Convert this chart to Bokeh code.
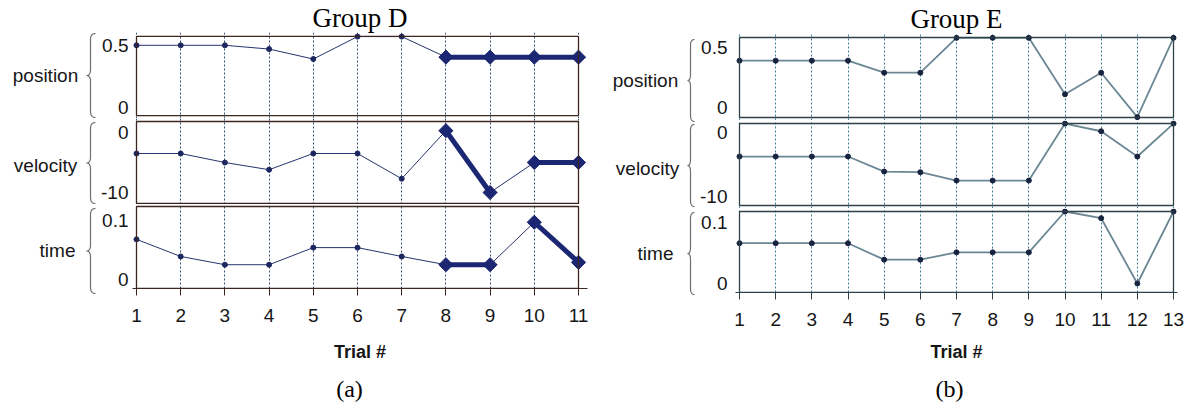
import numpy as np
from bokeh.plotting import figure
from bokeh.layouts import row, column
from bokeh.models import Range1d, FixedTicker, BoxAnnotation, Title
from bokeh.core.properties import value
from bokeh.embed import file_html
from bokeh.resources import INLINE

# ---------------- data ----------------
trials_d = [1, 2, 3, 4, 5, 6, 7, 8, 9, 10, 11]
position_d = [0.5, 0.5, 0.5, 0.47, 0.39, 0.57, 0.57, 0.405, 0.405, 0.405, 0.405]
velocity_d = [-3.5, -3.5, -5.0, -6.2, -3.5, -3.5, -7.7, 0.3, -10.0, -5.0, -5.0]
time_d = [0.068, 0.039, 0.025, 0.025, 0.054, 0.054, 0.039, 0.025, 0.025, 0.097, 0.029]
highlight_trials_d = [8, 9, 10, 11]
highlight_segments_d = {
    "position": [(8, 9), (9, 10), (10, 11)],
    "velocity": [(8, 9), (10, 11)],
    "time": [(8, 9), (10, 11)],
}

trials_e = [1, 2, 3, 4, 5, 6, 7, 8, 9, 10, 11, 12, 13]
position_e = [0.39, 0.39, 0.39, 0.39, 0.29, 0.29, 0.58, 0.58, 0.58, 0.11, 0.29, -0.08, 0.58]
velocity_e = [-3.75, -3.75, -3.75, -3.75, -6.1, -6.2, -7.5, -7.5, -7.5, 1.4, 0.2, -3.75, 1.4]
time_e = [0.066, 0.066, 0.066, 0.066, 0.039, 0.039, 0.051, 0.051, 0.051, 0.118, 0.107, 0.0, 0.118]

variables = ["position", "velocity", "time"]
yticks = {"position": [0, 0.5], "velocity": [-10, 0], "time": [0, 0.1]}
ytick_labels = {"position": ["0", "0.5"], "velocity": ["-10", "0"], "time": ["0", "0.1"]}
group_titles = ["Group D", "Group E"]
panel_tags = ["(a)", "(b)"]
x_label = "Trial #"

# ---------------- layout geometry (page pixels) ----------------
FONT = "Liberation Sans"
SERIF = "Liberation Serif"
TEXT = "#161616"
TOP_H = 375      # height of the chart area
PAGE_H = 402     # total height including the (a)/(b) captions
PAGE_W = 1184

groups = [
    dict(
        trials=trials_d,
        values={"position": position_d, "velocity": velocity_d, "time": time_d},
        hl_trials=highlight_trials_d, hl_segments=highlight_segments_d,
        deco_x=(0, 96),
        box_x=(136, 578), frame_x=(132, 587), fig_x=(96, 597),
        panels={
            "position": dict(box=(35, 115), frame=(31, 118), fig=(0, 118), lim=(-0.063, 0.571)),
            "velocity": dict(box=(121, 203), frame=(118, 204), fig=(118, 204), lim=(-11.83, 1.83)),
            "time": dict(box=(206, 288), frame=(204, 288), fig=(204, TOP_H), lim=(-0.0153, 0.1237)),
        },
        label_pos={"position": (45, 75), "velocity": (45, 165), "time": (57, 250)},
        brace_x=(86, 90, 95),
        brace_y={"position": (33, 117), "velocity": (122, 203), "time": (208, 293)},
        ystandoff=4,
        line_color="#26336e", line_width=1.0, dot_color="#1b275e",
        grid_color="#34506a", box_color="#3d2622", hl_color="#1c2773",
        xlabel_standoff=17, tag_pos=(349, 388),
    ),
    dict(
        trials=trials_e,
        values={"position": position_e, "velocity": velocity_e, "time": time_e},
        hl_trials=[], hl_segments={},
        deco_x=(597, 697),
        box_x=(739, 1173), frame_x=(735, 1177), fig_x=(697, PAGE_W),
        panels={
            "position": dict(box=(37, 117), frame=(33, 120), fig=(0, 120), lim=(-0.083, 0.583)),
            "velocity": dict(box=(123, 205), frame=(120, 208), fig=(120, 208), lim=(-11.4, 1.41)),
            "time": dict(box=(211, 292), frame=(208, 292), fig=(208, TOP_H), lim=(-0.0148, 0.118)),
        },
        label_pos={"position": (645, 80), "velocity": (647, 168), "time": (655, 253)},
        brace_x=(687, 690, 694),
        brace_y={"position": (39, 121), "velocity": (124, 206), "time": (212, 294)},
        ystandoff=8,
        line_color="#6a8793", line_width=1.8, dot_color="#17233f",
        grid_color="#3e7d98", box_color="#2e4148", hl_color="#1c2773",
        xlabel_standoff=13, tag_pos=(949, 388),
    ),
]


def brace_points(x_tip, x_spine, x_end, y_top, y_bot, r=6, n=8):
    mid = (y_top + y_bot) / 2.0

    def qb(p0, p1, p2):
        out = []
        for t in np.linspace(0, 1, n):
            out.append(((1 - t) ** 2 * p0[0] + 2 * (1 - t) * t * p1[0] + t ** 2 * p2[0],
                        (1 - t) ** 2 * p0[1] + 2 * (1 - t) * t * p1[1] + t ** 2 * p2[1]))
        return out

    pts = []
    pts += qb((x_end, y_top), (x_spine, y_top), (x_spine, y_top + r))
    pts += qb((x_spine, mid - r), (x_spine, mid), (x_tip, mid))
    pts += qb((x_tip, mid), (x_spine, mid), (x_spine, mid + r))
    pts += qb((x_spine, y_bot - r), (x_spine, y_bot), (x_end, y_bot))
    return pts


def blank_figure(w, h, xr, yr):
    f = figure(width=w, height=h, x_range=xr, y_range=yr, toolbar_location=None,
               output_backend="svg", title=None, x_axis_location=None,
               y_axis_location=None, min_border=0)
    f.outline_line_color = None
    f.xgrid.visible = False
    f.ygrid.visible = False
    f.background_fill_color = "white"
    f.border_fill_color = "white"
    return f


group_layouts = []
for gi, g in enumerate(groups):
    trials = g["trials"]
    bx0, bx1 = g["box_x"]
    fx0, fx1 = g["frame_x"]
    gx0, gx1 = g["fig_x"]
    dppx = (trials[-1] - trials[0]) / (bx1 - bx0)
    xs = trials[0] - (bx0 - fx0) * dppx
    xe = trials[-1] + (fx1 - bx1) * dppx

    # decoration figure: variable names with curly braces (page-pixel coordinates)
    dx0, dx1 = g["deco_x"]
    deco = blank_figure(dx1 - dx0, TOP_H, Range1d(dx0, dx1), Range1d(TOP_H, 0))
    bxs, bys = [], []
    for var in variables:
        bt, bs, be = g["brace_x"]
        byt, byb = g["brace_y"][var]
        pts = brace_points(bt, bs, be, byt, byb)
        bxs.append([a for a, b in pts])
        bys.append([b for a, b in pts])
    deco.multi_line(bxs, bys, line_color="#707070", line_width=1.2)
    deco.text(x=[g["label_pos"][v][0] for v in variables],
              y=[g["label_pos"][v][1] for v in variables],
              text=variables, text_align="center", text_baseline="middle",
              text_font=value(FONT), text_font_size="19px", text_color=TEXT)

    figs = []
    for vi, var in enumerate(variables):
        pan = g["panels"][var]
        by0, by1 = pan["box"]
        fy0, fy1 = pan["frame"]
        gy0, gy1 = pan["fig"]
        lo, hi = pan["lim"]
        dppy = (hi - lo) / (by1 - by0)
        ye = hi + (by0 - fy0) * dppy
        ys = lo - (fy1 - by1) * dppy

        last = vi == len(variables) - 1
        p = figure(width=gx1 - gx0, height=gy1 - gy0,
                   x_range=Range1d(xs, xe), y_range=Range1d(ys, ye),
                   toolbar_location=None, output_backend="svg", title=None,
                   x_axis_location="below" if last else None, y_axis_location="left",
                   min_border_left=fx0 - gx0, min_border_right=gx1 - fx1,
                   min_border_top=fy0 - gy0, min_border_bottom=gy1 - fy1)
        p.outline_line_color = None
        p.background_fill_color = "white"
        p.border_fill_color = "white"
        p.ygrid.visible = False
        p.xgrid.axis = None
        p.xgrid.ticker = FixedTicker(ticks=trials)
        p.xgrid.grid_line_color = g["grid_color"]
        p.xgrid.grid_line_dash = "2 2"
        p.xgrid.grid_line_width = 1

        ya = p.yaxis[0]
        ya.ticker = FixedTicker(ticks=yticks[var])
        ya.major_label_overrides = dict(zip(yticks[var], ytick_labels[var]))
        ya.major_tick_out = 0
        ya.major_tick_in = 0
        ya.minor_tick_out = 0
        ya.minor_tick_in = 0
        ya.axis_line_color = None
        ya.major_label_text_font = FONT
        ya.major_label_text_font_size = "19px"
        ya.major_label_text_color = TEXT
        ya.major_label_standoff = g["ystandoff"]

        if vi == 0:
            p.title = Title(text=group_titles[gi], align="center", text_font=SERIF,
                            text_font_size="27px", text_font_style="normal",
                            text_color="#000000", standoff=0, offset=0)

        if last:
            xa = p.xaxis[0]
            xa.ticker = FixedTicker(ticks=trials)
            xa.major_tick_out = 7
            xa.major_tick_in = 0
            xa.minor_tick_out = 0
            xa.minor_tick_in = 0
            xa.major_tick_line_color = g["box_color"]
            xa.axis_line_color = g["box_color"]
            xa.major_label_text_font = FONT
            xa.major_label_text_font_size = "19px"
            xa.major_label_text_color = TEXT
            xa.major_label_standoff = 13
            xa.axis_label = x_label
            xa.axis_label_text_font = FONT
            xa.axis_label_text_font_size = "18px"
            xa.axis_label_text_font_style = "bold"
            xa.axis_label_text_color = TEXT
            xa.axis_label_standoff = g["xlabel_standoff"]

        vals = g["values"][var]
        p.line(trials, vals, line_color=g["line_color"], line_width=g["line_width"])
        p.scatter(trials, vals, marker="circle", size=5, color=g["dot_color"])

        segs = g["hl_segments"].get(var, [])
        if segs:
            idx = {t: i for i, t in enumerate(trials)}
            p.segment(x0=[a for a, b in segs], y0=[vals[idx[a]] for a, b in segs],
                      x1=[b for a, b in segs], y1=[vals[idx[b]] for a, b in segs],
                      line_color=g["hl_color"], line_width=5)
            hx = g["hl_trials"]
            p.scatter(hx, [vals[idx[t]] for t in hx], marker="square", angle=np.pi / 4,
                      size=10, color=g["hl_color"])

        p.add_layout(BoxAnnotation(left=trials[0], right=trials[-1], bottom=lo, top=hi,
                                   fill_color=None, fill_alpha=0,
                                   line_color=g["box_color"], line_alpha=1.0, line_width=1.3))
        figs.append(p)
    group_layouts.append(row(deco, column(*figs, spacing=0), spacing=0))

# caption strip with (a) / (b)
caption = blank_figure(PAGE_W, PAGE_H - TOP_H, Range1d(0, PAGE_W), Range1d(PAGE_H, TOP_H))
caption.text(x=[g["tag_pos"][0] for g in groups], y=[g["tag_pos"][1] for g in groups],
             text=panel_tags, text_align="center", text_baseline="middle",
             text_font=value(SERIF), text_font_size="24px", text_color="#000000")

layout = column(row(*group_layouts, spacing=0), caption, spacing=0)

with open("out.html", "w") as f:
    f.write(file_html(layout, INLINE))
